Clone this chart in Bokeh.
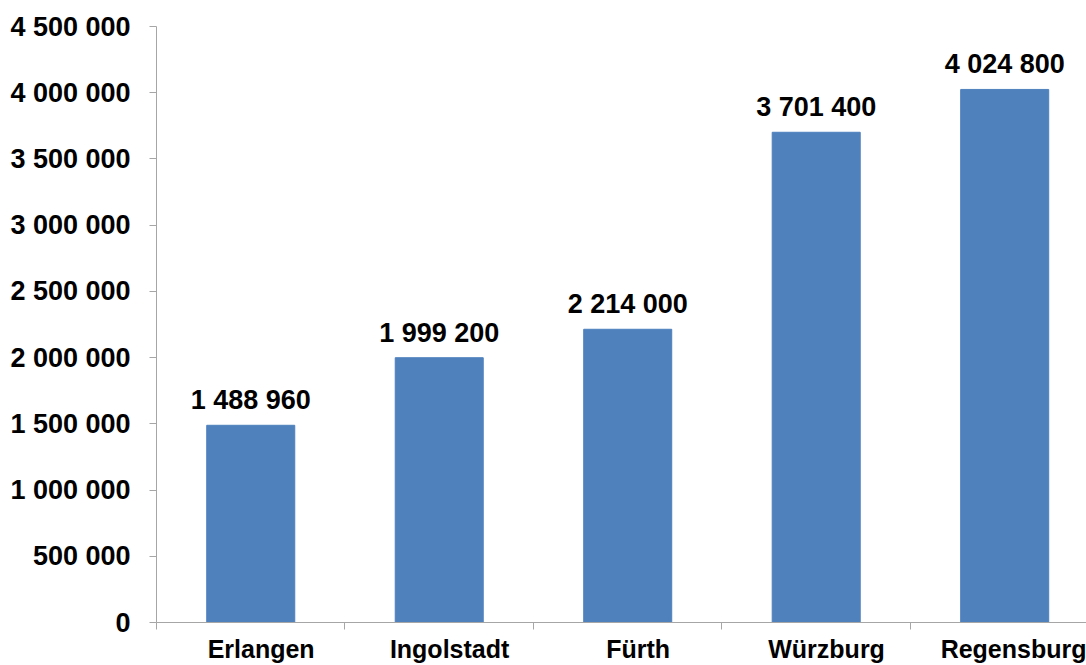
from bokeh.plotting import figure
from bokeh.models import Range1d, FixedTicker, ColumnDataSource
from bokeh.core.properties import value
from bokeh.embed import file_html
from bokeh.resources import INLINE

cities = ["Erlangen", "Ingolstadt", "Fürth", "Würzburg", "Regensburg"]
values = [1488960, 1999200, 2214000, 3701400, 4024800]
y_ticks = [0, 500000, 1000000, 1500000, 2000000, 2500000, 3000000, 3500000, 4000000, 4500000]

def fmt(v):
    return f"{v:,}".replace(",", " ")

xs = [i + 0.5 for i in range(len(cities))]
label_pos = [x + 0.055 for x in xs]
src = ColumnDataSource(dict(x=xs, top=values, label=[fmt(v) for v in values]))

FONT = "Liberation Sans"
GRAY = "#A6A6A6"

p = figure(width=1086, height=665, output_backend="svg", toolbar_location=None,
           x_range=Range1d(0, 4.934), y_range=Range1d(0, 4500000),
           min_border_left=156, min_border_right=0, min_border_top=26, min_border_bottom=43)
p.outline_line_color = None
p.xgrid.visible = False
p.ygrid.visible = False

p.vbar(x="x", top="top", width=0.467, source=src, color="#4F81BD")
p.text(x="x", y="top", text="label", source=src, text_align="center",
       text_baseline="alphabetic", y_offset=-25, text_font=value(FONT),
       text_font_size="27px", text_font_style="bold", text_color="#000000")

p.yaxis.ticker = FixedTicker(ticks=y_ticks)
p.yaxis.major_label_overrides = {t: fmt(t) for t in y_ticks}
p.yaxis.major_label_text_font = FONT
p.yaxis.major_label_text_font_size = "27px"
p.yaxis.major_label_text_font_style = "bold"
p.yaxis.major_label_text_color = "#000000"
p.yaxis.major_label_standoff = 19
p.yaxis.major_tick_out = 7
p.yaxis.major_tick_in = 0
p.yaxis.minor_tick_out = 0
p.yaxis.minor_tick_in = 0
p.yaxis.axis_line_color = GRAY
p.yaxis.major_tick_line_color = GRAY

p.xaxis.ticker = FixedTicker(ticks=label_pos, minor_ticks=[0, 1, 2, 3, 4])
p.xaxis.major_label_overrides = {x: c for x, c in zip(label_pos, cities)}
p.xaxis.major_label_text_font = FONT
p.xaxis.major_label_text_font_size = "25px"
p.xaxis.major_label_text_font_style = "bold"
p.xaxis.major_label_text_color = "#000000"
p.xaxis.major_label_text_line_height = 1.0
p.xaxis.major_label_standoff = 5
p.xaxis.major_tick_out = 0
p.xaxis.major_tick_in = 0
p.xaxis.minor_tick_out = 7
p.xaxis.minor_tick_in = 0
p.xaxis.minor_tick_line_color = GRAY
p.xaxis.axis_line_color = GRAY

open("out.html", "w").write(file_html(p, INLINE))
